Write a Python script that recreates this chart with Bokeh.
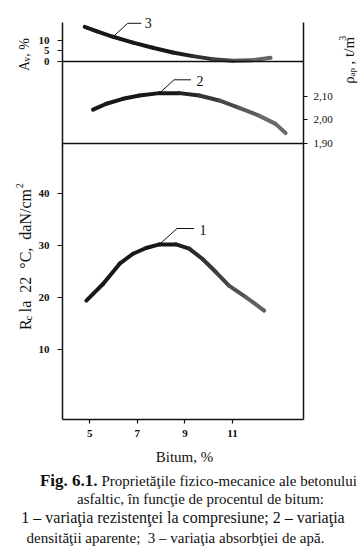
import math
from bokeh.plotting import figure
from bokeh.models import Range1d, LinearAxis, FixedTicker, Span
from bokeh.layouts import column, row
from bokeh.core.properties import value
from bokeh.embed import file_html
from bokeh.resources import INLINE

# ---------------- data ----------------
bitum_ticks = [5, 7, 9, 11]
rc_ticks = [10, 20, 30, 40]
av_ticks = [0, 5, 10]
rho_ticks = [1.90, 2.00, 2.10]
rho_tick_labels = ["1,90", "2,00", "2,10"]

# curve 1: compressive strength Rc at 22 C, daN/cm2
c1_bitum = [4.86, 5.56, 6.26, 6.82, 7.37, 7.93, 8.63, 9.18, 9.74, 10.30, 10.85, 11.56, 12.33]
c1_rc = [19.4, 22.6, 26.5, 28.4, 29.5, 30.2, 30.2, 29.4, 27.4, 24.9, 22.3, 20.1, 17.5]

# curve 2: apparent density, t/m3
c2_bitum = [5.14, 5.70, 6.40, 7.09, 7.93, 8.77, 9.60, 10.44, 11.28, 12.11, 12.81, 13.23]
c2_rho = [2.043, 2.068, 2.089, 2.103, 2.113, 2.113, 2.103, 2.082, 2.051, 2.018, 1.983, 1.944]

# curve 3: water absorption Av, %
c3_bitum = [4.79, 5.28, 5.98, 6.82, 7.65, 8.49, 9.33, 10.16, 11.00, 11.84, 12.60]
c3_av = [16.1, 14.1, 11.5, 8.8, 6.4, 4.2, 2.5, 1.1, 0.3, 0.6, 1.7]

curve_labels = ["1", "2", "3"]
x_title = "Bitum, %"
caption_bold = "Fig. 6.1."
caption_lines = [
    "Propriet\u0103\u0163ile fizico-mecanice ale betonului",
    "asfaltic, \u00een func\u0163ie de procentul de bitum:",
    "1 \u2013 varia\u0163ia rezisten\u0163ei la compresiune; 2 \u2013 varia\u0163ia",
    "densit\u0103\u0163ii aparente;\u00a0 3 \u2013 varia\u0163ia absorb\u0163iei de ap\u0103.",
]

# ---------------- layout (page pixels) ----------------
PAGE_W, PAGE_H = 362, 558
LEFT_W = 35            # text strip on the left
MAIN_R = 336           # right edge of the main figure
MAIN_H = 446           # height of the top row
FRAME_L, FRAME_R, FRAME_T, FRAME_B = 61, 303, 12, 419
AXIS_T = 22            # top of the drawn vertical axes

def bx(px):
    return 8 + (px - 160) / 23.9

def ry(py):
    return 25 + (271 - py) / 5.215

def av(py):
    return (61 - py) / 2.15

def rho(py):
    return 2.10 + (95.7 - py) / 236.5

SERIF = "Liberation Serif"
INK = "#111111"

p = figure(width=MAIN_R - LEFT_W, height=MAIN_H, output_backend="svg", toolbar_location=None,
           x_range=Range1d(bx(FRAME_L), bx(FRAME_R)),
           y_range=Range1d(ry(FRAME_B), ry(FRAME_T)),
           min_border_left=FRAME_L - LEFT_W, min_border_right=MAIN_R - FRAME_R,
           min_border_top=FRAME_T, min_border_bottom=MAIN_H - FRAME_B)
p.extra_y_ranges = {"av": Range1d(av(FRAME_B), av(FRAME_T)),
                    "rho": Range1d(rho(FRAME_B), rho(FRAME_T))}
p.outline_line_color = None
p.xgrid.visible = False
p.ygrid.visible = False
p.background_fill_color = "white"
p.border_fill_color = "white"

def style_axis(ax, tick_out, standoff, bold):
    ax.axis_line_width = 1.5
    ax.axis_line_color = INK
    ax.major_tick_out = tick_out
    ax.major_tick_in = 0
    ax.major_tick_line_color = INK
    ax.major_tick_line_width = 1.2
    ax.minor_tick_line_color = None
    ax.major_label_text_font = SERIF
    ax.major_label_text_font_style = "bold" if bold else "normal"
    ax.major_label_text_font_size = "11px"
    ax.major_label_text_color = INK
    ax.major_label_standoff = standoff

# bottom axis
xa = p.xaxis[0]
xa.ticker = FixedTicker(ticks=bitum_ticks)
xa.major_label_overrides = {t: str(t) for t in bitum_ticks}
style_axis(xa, 4, 6, True)

# left axis: Rc ticks and Av ticks (Av converted through the two ranges)
yr = p.y_range
ar = p.extra_y_ranges["av"]
def av_to_rc(a):
    f = (a - ar.start) / (ar.end - ar.start)
    return round(yr.start + f * (yr.end - yr.start), 6)

left_ticks = [float(t) for t in rc_ticks] + [av_to_rc(a) for a in av_ticks]
left_labels = {float(t): str(t) for t in rc_ticks}
for a in av_ticks:
    left_labels[av_to_rc(a)] = str(a)
ya = p.yaxis[0]
ya.ticker = FixedTicker(ticks=left_ticks)
ya.major_label_overrides = left_labels
ya.bounds = (ry(FRAME_B), ry(AXIS_T))
style_axis(ya, 5, 8, True)

# right axis: density
ra = LinearAxis(y_range_name="rho", ticker=FixedTicker(ticks=rho_ticks),
                major_label_overrides={t: l for t, l in zip(rho_ticks, rho_tick_labels)},
                bounds=(rho(FRAME_B), rho(AXIS_T)))
style_axis(ra, 4, 6, False)
p.add_layout(ra, "right")

# panel separators
p.add_layout(Span(location=av_ticks[0], dimension="width", y_range_name="av",
                  line_color=INK, line_width=1.3))
p.add_layout(Span(location=rho_ticks[0], dimension="width", y_range_name="rho",
                  line_color=INK, line_width=1.3))

# curves: drawn as consecutive segments, darker on the left, greyer on the right (scan look)
def shade(xm):
    t = min(max((xm - 8.6) / 3.8, 0.0), 1.0)
    g = int(0x18 + t * (0x6a - 0x18))
    return "#%02x%02x%02x" % (g, g, g)

def curve(xs, ys, rng=None):
    x0, y0, x1, y1 = xs[:-1], ys[:-1], xs[1:], ys[1:]
    cols = [shade((a + b) / 2) for a, b in zip(x0, x1)]
    kw = {} if rng is None else {"y_range_name": rng}
    p.segment(x0, y0, x1, y1, line_width=4, line_color=cols, line_cap="round", **kw)

curve(c1_bitum, c1_rc)
curve(c2_bitum, c2_rho, "rho")
curve(c3_bitum, c3_av, "av")

# leader lines and curve numbers
i1, i2, i3 = 5, 4, 2
p.line([c1_bitum[i1], bx(176), bx(193)], [c1_rc[i1], ry(228), ry(228)], line_color=INK, line_width=1)
p.line([c2_bitum[i2], bx(173), bx(190)], [c2_rho[i2], rho(79.3), rho(79.3)], line_color=INK,
       line_width=1, y_range_name="rho")
p.line([c3_bitum[i3], bx(126.5), bx(140)], [c3_av[i3], av(22.8), av(22.8)], line_color=INK,
       line_width=1, y_range_name="av")
p.text(x=[bx(202), bx(199), bx(147)], y=[ry(229), ry(80), ry(22)], text=curve_labels,
       text_font=value(SERIF), text_font_size=value("14px"), text_align="center",
       text_baseline="middle", text_color=INK)

# ---------------- text strips (coordinates = pixels of each strip) ----------------
def text_fig(w, h):
    f = figure(width=w, height=h, output_backend="svg", toolbar_location=None,
               x_range=Range1d(0, w), y_range=Range1d(h, 0),
               x_axis_location=None, y_axis_location=None,
               min_border=0, min_border_left=0, min_border_right=0,
               min_border_top=0, min_border_bottom=0)
    f.outline_line_color = None
    f.background_fill_color = "white"
    f.border_fill_color = "white"
    for g in f.grid:
        g.visible = False
    return f

def put(f, x, y, t, size, align="left", angle=0.0, style="normal", baseline="middle"):
    f.text(x=[x], y=[y], text=[t], angle=angle, text_font=value(SERIF),
           text_font_size=value(size), text_font_style=style, text_align=align,
           text_baseline=baseline, text_color=INK)

UP = math.pi / 2

def vput(f, x_base, y_start, t, size):
    # rotated text reading bottom-to-top; x_base = baseline, y_start = where the text begins
    put(f, x_base, y_start, t, size, align="left", angle=UP, baseline="alphabetic")

left = text_fig(LEFT_W, MAIN_H)
vput(left, 24, 64, "A", "14px")
vput(left, 26, 54, "v", "10px")
vput(left, 24, 48.5, ",\u00a0%", "14px")
vput(left, 25, 348, "R", "16px")
vput(left, 27.5, 337.5, "c", "11px")
vput(left, 25, 328.5, "la\u00a0 22\u00a0 \u00b0C,\u00a0 daN/cm", "16px")
vput(left, 18.5, 192.5, "2", "10px")

RW = PAGE_W - MAIN_R
right = text_fig(RW, MAIN_H)
vput(right, 12, 78, "\u03c1", "15px")
vput(right, 15, 70, "ap", "9px")
vput(right, 12, 61, "\u00a0, t/m", "15px")
vput(right, 6, 31, "3", "10px")

CAP_H = PAGE_H - MAIN_H
cap = text_fig(PAGE_W, CAP_H)
put(cap, 184, 456 - MAIN_H, x_title, "15px", align="center")
put(cap, 97, 480 - MAIN_H, caption_bold, "17px", align="right", style="bold")
put(cap, 101, 480 - MAIN_H, caption_lines[0], "15px")
put(cap, 200, 498 - MAIN_H, caption_lines[1], "15px", align="center")
put(cap, 182.5, 517 - MAIN_H, caption_lines[2], "16px", align="center")
put(cap, 175, 537 - MAIN_H, caption_lines[3], "15px", align="center")

layout = column(row(left, p, right), cap)
open("out.html", "w").write(file_html(layout, INLINE))
